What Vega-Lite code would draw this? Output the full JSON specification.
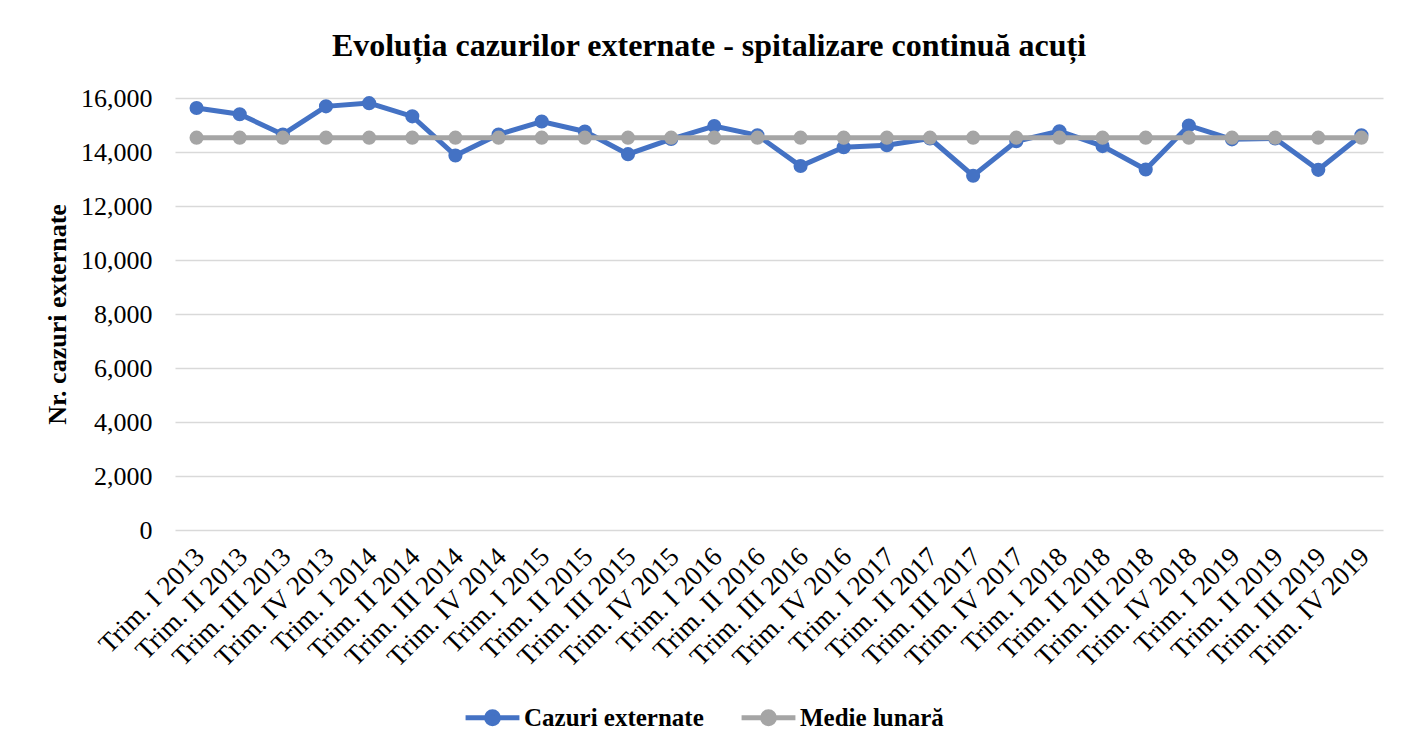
{
  "$schema": "https://vega.github.io/schema/vega-lite/v6.json",
  "autosize": "none",
  "width": 1208,
  "height": 432,
  "padding": {"left": 175, "top": 98, "right": 20, "bottom": 219},
  "background": "white",
  "title": {
    "text": "Evoluția cazurilor externate - spitalizare continuă acuți",
    "font": "Liberation Serif",
    "fontSize": 32,
    "fontWeight": "bold",
    "color": "#000000",
    "anchor": "middle",
    "dx": -70,
    "offset": 22
  },
  "config": {
    "view": {"stroke": null},
    "font": "Liberation Serif"
  },
  "data": {
    "values": [
      {"q": "Trim. I 2013", "series": "Cazuri externate", "value": 15630},
      {"q": "Trim. II 2013", "series": "Cazuri externate", "value": 15400},
      {"q": "Trim. III 2013", "series": "Cazuri externate", "value": 14650},
      {"q": "Trim. IV 2013", "series": "Cazuri externate", "value": 15690},
      {"q": "Trim. I 2014", "series": "Cazuri externate", "value": 15810},
      {"q": "Trim. II 2014", "series": "Cazuri externate", "value": 15320},
      {"q": "Trim. III 2014", "series": "Cazuri externate", "value": 13870},
      {"q": "Trim. IV 2014", "series": "Cazuri externate", "value": 14650},
      {"q": "Trim. I 2015", "series": "Cazuri externate", "value": 15130},
      {"q": "Trim. II 2015", "series": "Cazuri externate", "value": 14760},
      {"q": "Trim. III 2015", "series": "Cazuri externate", "value": 13920},
      {"q": "Trim. IV 2015", "series": "Cazuri externate", "value": 14480},
      {"q": "Trim. I 2016", "series": "Cazuri externate", "value": 14960},
      {"q": "Trim. II 2016", "series": "Cazuri externate", "value": 14620},
      {"q": "Trim. III 2016", "series": "Cazuri externate", "value": 13480},
      {"q": "Trim. IV 2016", "series": "Cazuri externate", "value": 14180},
      {"q": "Trim. I 2017", "series": "Cazuri externate", "value": 14250},
      {"q": "Trim. II 2017", "series": "Cazuri externate", "value": 14500},
      {"q": "Trim. III 2017", "series": "Cazuri externate", "value": 13120},
      {"q": "Trim. IV 2017", "series": "Cazuri externate", "value": 14400},
      {"q": "Trim. I 2018", "series": "Cazuri externate", "value": 14770},
      {"q": "Trim. II 2018", "series": "Cazuri externate", "value": 14220},
      {"q": "Trim. III 2018", "series": "Cazuri externate", "value": 13350},
      {"q": "Trim. IV 2018", "series": "Cazuri externate", "value": 14980},
      {"q": "Trim. I 2019", "series": "Cazuri externate", "value": 14470},
      {"q": "Trim. II 2019", "series": "Cazuri externate", "value": 14500},
      {"q": "Trim. III 2019", "series": "Cazuri externate", "value": 13340},
      {"q": "Trim. IV 2019", "series": "Cazuri externate", "value": 14620},
      {"q": "Trim. I 2013", "series": "Medie lunară", "value": 14530},
      {"q": "Trim. II 2013", "series": "Medie lunară", "value": 14530},
      {"q": "Trim. III 2013", "series": "Medie lunară", "value": 14530},
      {"q": "Trim. IV 2013", "series": "Medie lunară", "value": 14530},
      {"q": "Trim. I 2014", "series": "Medie lunară", "value": 14530},
      {"q": "Trim. II 2014", "series": "Medie lunară", "value": 14530},
      {"q": "Trim. III 2014", "series": "Medie lunară", "value": 14530},
      {"q": "Trim. IV 2014", "series": "Medie lunară", "value": 14530},
      {"q": "Trim. I 2015", "series": "Medie lunară", "value": 14530},
      {"q": "Trim. II 2015", "series": "Medie lunară", "value": 14530},
      {"q": "Trim. III 2015", "series": "Medie lunară", "value": 14530},
      {"q": "Trim. IV 2015", "series": "Medie lunară", "value": 14530},
      {"q": "Trim. I 2016", "series": "Medie lunară", "value": 14530},
      {"q": "Trim. II 2016", "series": "Medie lunară", "value": 14530},
      {"q": "Trim. III 2016", "series": "Medie lunară", "value": 14530},
      {"q": "Trim. IV 2016", "series": "Medie lunară", "value": 14530},
      {"q": "Trim. I 2017", "series": "Medie lunară", "value": 14530},
      {"q": "Trim. II 2017", "series": "Medie lunară", "value": 14530},
      {"q": "Trim. III 2017", "series": "Medie lunară", "value": 14530},
      {"q": "Trim. IV 2017", "series": "Medie lunară", "value": 14530},
      {"q": "Trim. I 2018", "series": "Medie lunară", "value": 14530},
      {"q": "Trim. II 2018", "series": "Medie lunară", "value": 14530},
      {"q": "Trim. III 2018", "series": "Medie lunară", "value": 14530},
      {"q": "Trim. IV 2018", "series": "Medie lunară", "value": 14530},
      {"q": "Trim. I 2019", "series": "Medie lunară", "value": 14530},
      {"q": "Trim. II 2019", "series": "Medie lunară", "value": 14530},
      {"q": "Trim. III 2019", "series": "Medie lunară", "value": 14530},
      {"q": "Trim. IV 2019", "series": "Medie lunară", "value": 14530}
    ]
  },
  "encoding": {
    "x": {
      "field": "q",
      "type": "nominal",
      "sort": null,
      "scale": {"type": "point", "padding": 0.5},
      "axis": {
        "title": null,
        "labelAngle": -45,
        "labelFont": "Liberation Serif",
        "labelFontSize": 27,
        "labelColor": "#000000",
        "labelPadding": 13,
        "labelOffset": -6,
        "labelLimit": 0,
        "ticks": false,
        "domain": false,
        "grid": false
      }
    },
    "y": {
      "field": "value",
      "type": "quantitative",
      "scale": {"domain": [0, 16000], "nice": false},
      "axis": {
        "title": "Nr. cazuri externate",
        "titleFont": "Liberation Serif",
        "titleFontSize": 26,
        "titleFontWeight": "bold",
        "titleColor": "#000000",
        "titlePadding": 10,
        "values": [0, 2000, 4000, 6000, 8000, 10000, 12000, 14000, 16000],
        "format": ",.0f",
        "labelFont": "Liberation Serif",
        "labelFontSize": 26,
        "labelColor": "#000000",
        "labelPadding": 23,
        "ticks": false,
        "domain": false,
        "grid": true,
        "gridColor": "#D9D9D9",
        "gridWidth": 1.5
      }
    },
    "color": {
      "field": "series",
      "type": "nominal",
      "scale": {"domain": ["Cazuri externate", "Medie lunară"], "range": ["#4472C4", "#A5A5A5"]},
      "legend": {
        "title": null,
        "orient": "none",
        "legendX": 288,
        "legendY": 590,
        "direction": "horizontal",
        "labelFont": "Liberation Serif",
        "labelFontSize": 25,
        "labelFontWeight": "bold",
        "labelColor": "#000000",
        "labelLimit": 0,
        "symbolType": "M-1,0L1,0M-0.22,0A0.22,0.22 0 1,1 0.22,0A0.22,0.22 0 1,1 -0.22,0Z",
        "symbolSize": 2900,
        "symbolStrokeWidth": 5,
        "columnPadding": 27,
        "labelOffset": 2
      }
    }
  },
  "layer": [
    {
      "transform": [{"filter": "datum.series === 'Cazuri externate'"}],
      "mark": {"type": "line", "strokeWidth": 5, "point": {"filled": true, "size": 200}}
    },
    {
      "transform": [{"filter": "datum.series === 'Medie lunară'"}],
      "mark": {"type": "line", "strokeWidth": 5, "point": {"filled": true, "size": 200}}
    }
  ]
}
